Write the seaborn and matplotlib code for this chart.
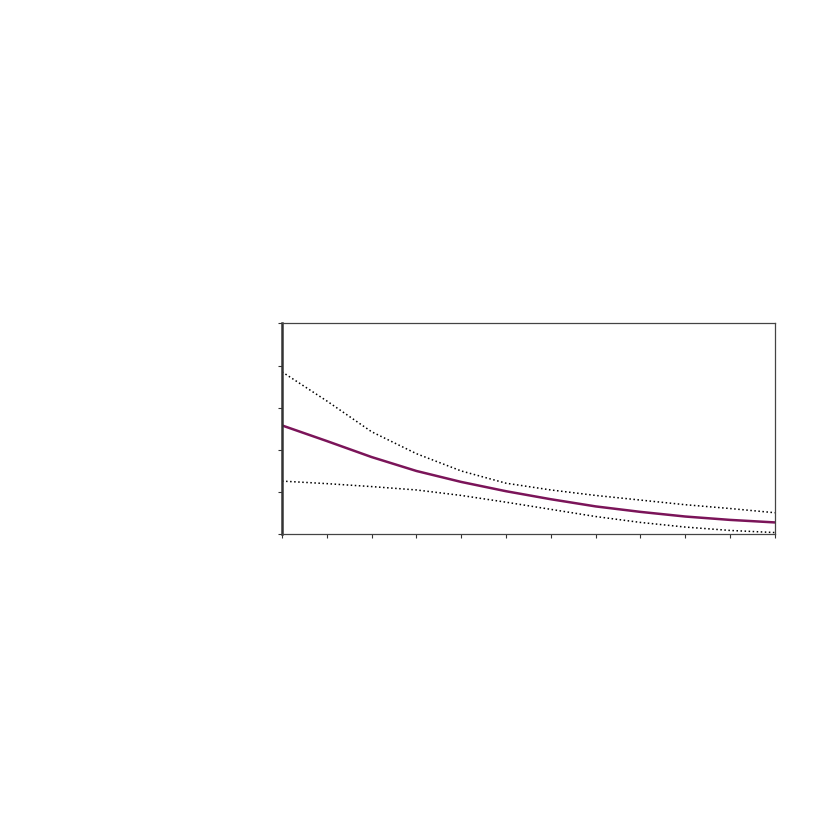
import seaborn as sns
import matplotlib.pyplot as plt
import pandas as pd

sns.set_style("white")

# values (no tick labels shown)
x_pos = [0, 1, 2, 3, 4, 5, 6, 7, 8, 9, 10, 11]
mean_vals = [2.58, 2.21, 1.83, 1.50, 1.24, 1.02, 0.83, 0.66, 0.53, 0.42, 0.34, 0.28]
upper_vals = [3.85, 3.16, 2.43, 1.91, 1.50, 1.21, 1.05, 0.92, 0.81, 0.70, 0.61, 0.51]
lower_vals = [1.26, 1.20, 1.13, 1.05, 0.92, 0.76, 0.59, 0.42, 0.28, 0.17, 0.09, 0.04]

df = pd.DataFrame({"x": x_pos, "mean": mean_vals, "upper": upper_vals, "lower": lower_vals})

fig = plt.figure(figsize=(8.27, 8.27), dpi=100)
ax = fig.add_axes([0.341, 0.354, 0.596, 0.255])

sns.lineplot(x="x", y="upper", data=df, ax=ax, color="black", linestyle=":", linewidth=1.1)
sns.lineplot(x="x", y="lower", data=df, ax=ax, color="black", linestyle=":", linewidth=1.1)
sns.lineplot(x="x", y="mean", data=df, ax=ax, color="#7b1459", linewidth=1.8)

ax.set_xlim(0, 11)
ax.set_ylim(0, 5)
ax.set_xticks(range(0, 12))
ax.set_yticks(range(0, 6))
ax.set_xticklabels([])
ax.set_yticklabels([])
ax.set_xlabel("")
ax.set_ylabel("")
ax.tick_params(axis="both", direction="out", length=3, width=0.8, color="#333333",
               bottom=True, left=True)

for side in ["top", "right", "bottom"]:
    ax.spines[side].set_color("#444444")
    ax.spines[side].set_linewidth(0.9)
ax.spines["left"].set_color("#333333")
ax.spines["left"].set_linewidth(1.8)

plt.savefig("out.png", dpi=100)
plt.close()
